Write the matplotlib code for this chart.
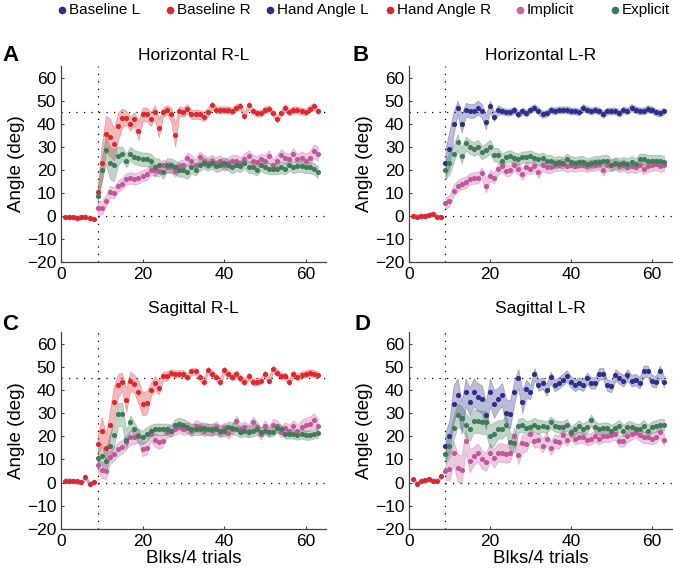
import numpy as np
import matplotlib
matplotlib.use("Agg")
import matplotlib.pyplot as plt
from matplotlib.lines import Line2D

plt.rcParams["font.family"] = ["Liberation Sans", "DejaVu Sans"]

# ---- data ----
base_x = list(range(1, 9))
x = list(range(9, 64))

# Panel A: Horizontal R-L
a_base = [-0.5, -0.5, -0.5, -0.8, -0.5, -0.3, -1.0, -1.2]
a_hand = [10.5, 23, 35.5, 34, 31, 39, 42.5, 42.5, 40, 42, 37, 44, 44, 42, 45, 38, 45, 46, 44, 35,
          45.5, 45, 46.5, 44, 44, 44, 43, 45, 48, 46, 46, 46, 46, 45.5, 47, 47.5, 43.5, 48, 45.5, 44.5,
          44.5, 46, 46.5, 44.5, 42, 44.5, 47, 45, 46, 46, 45.5, 45, 46.5, 47.5, 45.5]
a_hand_sem = [2, 8, 8, 8, 7, 6, 4, 3, 3, 3, 4, 3, 3, 3, 3, 4, 2, 2, 3, 5,
              2, 2, 2, 2, 2, 2, 2, 2, 1.5, 1.5, 1.5, 1.5, 1.5, 1.5, 1.5, 1.5, 1.5, 1.5, 1.5, 1.5,
              1.5, 1.5, 1.5, 1.5, 1.5, 1.5, 1.5, 1.5, 1.5, 1.5, 1.5, 1.5, 1.5, 1.5, 1.5]
a_expl = [8.5, 20, 28.5, 23, 22, 26, 27, 24, 27, 25.5, 25, 24.5, 24.5, 24, 21, 22, 19, 22, 22, 21,
          20, 20, 19, 21, 20, 22, 23, 22, 23, 21.5, 22, 23, 22, 21, 22, 21.5, 23, 21, 21, 20,
          22, 21, 20.5, 20.5, 20.5, 21, 20.5, 22, 21, 21.5, 21.5, 21, 21, 20.5, 19]
a_expl_sem = [3, 5, 6, 7, 7, 4, 3, 3, 3, 3, 3, 3, 3, 3, 4, 3, 3, 3, 3, 3,
              3, 3, 3, 2.5, 2.5, 2.5, 2.5, 2.5, 2.5, 2.5, 2.5, 2.5, 2.5, 2.5, 2.5, 2.5, 2.5, 2.5, 2.5, 2.5,
              2.5, 2.5, 2.5, 2.5, 2.5, 2.5, 2.5, 2.5, 2.5, 2.5, 2.5, 2.5, 2.5, 2.5, 2.5]
a_impl = [3.5, 3.5, 6.5, 10.5, 10, 13, 14, 16, 16.5, 16, 16.5, 17.5, 18, 20, 20, 19.5, 22, 21, 21, 19.5,
          21.5, 22, 25, 24, 22, 25.5, 24, 23, 24, 23, 24, 22, 23, 24, 24, 23, 24.5, 26, 24, 23.5,
          24.5, 24, 26, 22, 24, 26.5, 25, 24.5, 27, 24.5, 25, 24, 25, 28, 27]
a_impl_sem = [3, 3, 2.5, 2.5, 2.5, 2.5, 2.5, 2.5, 2.5, 2.5, 2.5, 2.5, 2.5, 2.5, 2.5, 2.5, 2.5, 2.5, 2.5, 2.5,
              2.5, 2.5, 2.5, 2.5, 2.5, 2.5, 2.5, 2.5, 2.5, 2.5, 2.5, 2.5, 2.5, 2.5, 2.5, 2.5, 2.5, 2.5, 2.5, 2.5,
              2.5, 2.5, 2.5, 2.5, 2.5, 2.5, 2.5, 2.5, 2.5, 2.5, 3, 3, 3, 3, 3]

# Panel B: Horizontal L-R
b_base = [0, -0.3, 0, 0, 0.5, 1, -0.5, -0.5]
b_hand = [23, 29, 40, 47, 40, 46, 45.5, 45.5, 47, 45.5, 40.5, 47.5, 43, 46, 45.5, 45, 45, 46, 44, 45.5,
          44.5, 46, 47, 45.5, 44, 44.5, 46, 45.5, 46, 46, 46, 45.5, 45.5, 45, 47, 46, 45.5, 46, 45.5, 44,
          45.5, 45.5, 45.5, 44.5, 46, 45.5, 47, 46, 45.5, 45.5, 46.5, 46, 45, 44.5, 45.5]
b_hand_sem = [6, 8, 5, 3, 4, 3, 3, 3, 3, 3, 3, 2.5, 2, 2, 1.5, 1.5, 1.5, 1.5, 1.5, 1.5,
              1.5, 1.5, 1.5, 1.5, 1.5, 1.5, 1.5, 1.5, 1.5, 1.5, 1.5, 1.5, 1.5, 1.5, 1.5, 1.5, 1.5, 1.5, 1.5, 1.5,
              1.5, 1.5, 1.5, 1.5, 1.5, 1.5, 1.5, 1.5, 1.5, 1.5, 1.5, 1.5, 1.5, 1.5, 1.5]
b_expl = [20, 23, 27, 32, 26, 31.5, 30, 29, 30, 27.5, 28.5, 30, 26.5, 26.5, 24, 25.5, 26, 25, 24.5, 25.5,
          25.5, 26, 25, 24.5, 25, 24, 24, 23, 23.5, 23, 24.5, 23.5, 23, 23.5, 23.5, 22.5, 23, 23.5, 23.5, 24,
          24, 22, 23, 22.5, 23, 22.5, 23.5, 22.5, 24.5, 24.5, 24, 24, 24, 24, 23.5]
b_expl_sem = [4, 5, 4, 3.5, 3.5, 3, 3, 3, 3, 3, 3, 3, 3, 3, 3, 2.5, 2.5, 2.5, 2.5, 2.5,
              2.5, 2.5, 2.5, 2.5, 2.5, 2.5, 2.5, 2.5, 2.5, 2.5, 2.5, 2.5, 2.5, 2.5, 2.5, 2.5, 2.5, 2.5, 2.5, 2.5,
              2.5, 2.5, 2.5, 2.5, 2.5, 2.5, 2.5, 2.5, 2.5, 2.5, 2.5, 2.5, 2.5, 2.5, 2.5]
b_impl = [5.5, 6.5, 11, 13, 14, 14.5, 16, 16.5, 16.5, 18.5, 13, 17.5, 16.5, 20.5, 21.5, 19.5, 20, 22, 20.5, 18,
          21, 20.5, 21.5, 19, 22, 21, 21, 22, 22, 22.5, 21.5, 22, 21.5, 22, 22, 21.5, 22, 22, 22.5, 20,
          22, 22, 22.5, 21.5, 22, 21, 21.5, 21, 22, 20.5, 21.5, 22, 22.5, 21.5, 22]
b_impl_sem = [2.5, 2.5, 2.5, 2.5, 2.5, 2.5, 2.5, 2.5, 2.5, 2.5, 3, 2.5, 2.5, 2.5, 2.5, 2.5, 2.5, 2.5, 2.5, 2.5,
              2.5, 2.5, 2.5, 2.5, 2.5, 2.5, 2.5, 2.5, 2.5, 2.5, 2.5, 2.5, 2.5, 2.5, 2.5, 2.5, 2.5, 2.5, 2.5, 2.5,
              2.5, 2.5, 2.5, 2.5, 2.5, 2.5, 2.5, 2.5, 2.5, 2.5, 2.5, 2.5, 2.5, 2.5, 2.5]

# Panel C: Sagittal R-L
c_base = [0.9, 0.9, 0.7, 0.5, 0.1, 2.3, -0.7, 0.3]
c_hand = [16.5, 22.5, 15, 25, 35, 42, 43.5, 35.5, 44, 42.5, 39, 34, 34.5, 40, 43, 41, 46, 46, 47.5, 47,
          47, 47, 45.5, 48, 48, 45.5, 43.5, 48.5, 47, 45.5, 43.5, 48.5, 47, 45.5, 47, 45, 43.5, 46, 43.5, 43.5,
          44, 47, 44, 49, 47.5, 46, 46, 43.5, 47, 45.5, 46.5, 47, 47.5, 47, 46.5]
c_hand_sem = [4, 6, 6, 6, 7, 5, 4, 5, 4, 4, 5, 5, 5, 3, 3, 3, 2, 2, 1.5, 1.5,
              1.5, 1.5, 1.5, 1.5, 1.5, 1.5, 1.5, 1.5, 1.5, 1.5, 1.5, 1.5, 1.5, 1.5, 1.5, 1.5, 1.5, 1.5, 1.5, 1.5,
              1.5, 1.5, 1.5, 1.5, 1.5, 1.5, 1.5, 1.5, 1.5, 1.5, 1.5, 1.5, 1.5, 1.5, 1.5]
c_expl = [10.5, 11.5, 9.5, 16, 20.5, 29.5, 29.5, 18.5, 26, 23, 20, 19.5, 21, 22.5, 23, 23, 23, 23, 22.5, 25,
          25.5, 25, 24, 23, 23, 23, 23.5, 23, 23, 23, 22.5, 22.5, 24, 23.5, 23, 22, 22.5, 22, 22.5, 23,
          22, 22.5, 22, 22, 23.5, 23, 21, 21, 21, 20.5, 21, 20.5, 20.5, 21, 21.5]
c_expl_sem = [3, 4, 5, 5, 5, 5, 5, 4, 3, 3, 3, 3, 3, 2.5, 2.5, 2.5, 2.5, 2.5, 2.5, 2.5,
              2.5, 2.5, 2.5, 2.5, 2.5, 2.5, 2.5, 2.5, 2.5, 2.5, 2.5, 2.5, 2.5, 2.5, 2.5, 2.5, 2.5, 2.5, 2.5, 2.5,
              2, 2, 2, 2, 2, 2, 2, 2, 2, 2, 2, 2, 2, 2, 2]
c_impl = [7.5, 5.5, 5, 11, 12.5, 14.5, 15.5, 17.5, 19.5, 19.5, 20.5, 14.5, 15, 21, 18.5, 17.5, 18, 22, 22.5, 23,
          24, 23, 23.5, 22.5, 24.5, 24, 22.5, 23, 22.5, 24, 22, 23.5, 21.5, 23, 26.5, 23, 24, 22.5, 26, 24,
          21, 24.5, 22, 25, 24.5, 22, 23.5, 22.5, 24.5, 22.5, 24, 25, 25.5, 27, 24.5]
c_impl_sem = [3, 3.5, 3.5, 3, 3, 3, 3, 3, 3, 3, 3, 3, 3, 3, 3, 3, 2.5, 2.5, 2.5, 2.5,
              2.5, 2.5, 2.5, 2.5, 2.5, 2.5, 2.5, 2.5, 2.5, 2.5, 2.5, 2.5, 2.5, 2.5, 2.5, 2.5, 2.5, 2.5, 2.5, 2.5,
              2.5, 2.5, 2.5, 2.5, 2.5, 2.5, 2.5, 2.5, 2.5, 2.5, 3, 3, 3, 3, 3]

# Panel D: Sagittal L-R
d_base = [1.5, -0.5, 0.8, 1, 1.5, 0.8, 0.8, 3]
d_hand = [15.7, 20, 34, 38, 28, 39, 35, 39, 37, 36, 29, 39, 34, 36, 38, 30, 29.5, 39, 45, 35,
          40.5, 39, 47, 42, 43, 40, 45.5, 42, 43, 44.5, 46, 43.5, 42, 43, 42, 45, 43, 43, 47, 47,
          42, 41.5, 46.5, 45, 44, 46.5, 44, 44.5, 43, 48, 48, 44, 43.5, 48, 43.5]
d_hand_sem = [6, 7, 8, 7, 7, 6, 6, 6, 6, 6, 6, 6, 6, 5, 5, 6, 6, 5, 4, 5,
              4, 3, 2.5, 2.5, 2.5, 2.5, 2.5, 2.5, 2.5, 2.5, 2.5, 2.5, 2.5, 2.5, 2.5, 2.5, 2.5, 2.5, 2.5, 2.5,
              2.5, 2.5, 2.5, 2.5, 2.5, 2.5, 2.5, 2.5, 2.5, 2.5, 2.5, 2.5, 2.5, 2.5, 2.5]
d_expl = [12.5, 16, 23.5, 29, 28, 25, 23, 26.5, 26.5, 26, 26, 20, 21, 23, 23, 25, 17.5, 17, 24.5, 25,
          23.5, 24, 25, 24, 24.5, 24, 26, 24.5, 24, 24, 25, 22, 23, 24.5, 23, 24, 27, 24, 23, 23.5,
          23.5, 22.5, 23.5, 24.5, 22.5, 24, 24, 23, 23, 24.5, 22.5, 24, 24.5, 25, 25]
d_expl_sem = [4, 5, 5, 5, 5, 5, 5, 5, 5, 5, 5, 5, 5, 4, 4, 4, 4, 4, 3, 3,
              3, 3, 3, 3, 2.5, 2.5, 2.5, 2.5, 2.5, 2.5, 2.5, 2.5, 2.5, 2.5, 2.5, 2.5, 2.5, 2.5, 2.5, 2.5,
              2.5, 2.5, 2.5, 2.5, 2.5, 2.5, 2.5, 2.5, 2.5, 2.5, 2.5, 2.5, 2.5, 2.5, 2.5]
d_impl = [5, 6, 13, 6.5, 5.5, 18, 9.5, 11.5, 13, 10, 9, 13, 10.5, 13, 13, 12.5, 13, 20, 12, 17,
          16.5, 21, 18, 18.5, 16, 19, 15, 18, 17.5, 20.5, 18.5, 21, 19, 19.5, 19.5, 18.5, 19, 20, 19, 20,
          20, 20.5, 21, 18, 18, 20, 21, 22, 20.5, 19.5, 19.5, 19, 19.5, 22, 18.5]
d_impl_sem = [4, 5, 5, 6, 6, 5, 5, 4, 4, 4, 4, 4, 4, 4, 4, 4, 4, 4, 4, 4,
              3, 3, 3, 3, 3, 3, 3, 3, 3, 3, 2.5, 2.5, 2.5, 2.5, 2.5, 2.5, 2.5, 2.5, 2.5, 2.5,
              2.5, 2.5, 2.5, 2.5, 2.5, 2.5, 2.5, 2.5, 2.5, 2.5, 2.5, 2.5, 2.5, 2.5, 2.5]
base_sem = [1, 1, 1, 1, 1, 1, 1, 1]

panel_letters = ["A", "B", "C", "D"]
panel_titles = ["Horizontal R-L", "Horizontal L-R", "Sagittal R-L", "Sagittal L-R"]
legend_labels = ["Baseline L", "Baseline R", "Hand Angle L", "Hand Angle R", "Implicit", "Explicit"]

RED = "#e0262c"
BLUE = "#2b2f8c"
PINK = "#c1579b"
GREEN = "#3e7c56"

panels = [
    (a_base, RED, a_hand, a_hand_sem, RED, a_expl, a_expl_sem, a_impl, a_impl_sem),
    (b_base, RED, b_hand, b_hand_sem, BLUE, b_expl, b_expl_sem, b_impl, b_impl_sem),
    (c_base, BLUE, c_hand, c_hand_sem, RED, c_expl, c_expl_sem, c_impl, c_impl_sem),
    (d_base, BLUE, d_hand, d_hand_sem, BLUE, d_expl, d_expl_sem, d_impl, d_impl_sem),
]

W, H = 673, 584
fig = plt.figure(figsize=(W / 100, H / 100), dpi=100)
boxes = [
    [61 / W, (H - 262) / H, 265 / W, 196 / H],
    [409 / W, (H - 262) / H, 263 / W, 196 / H],
    [61 / W, (H - 529) / H, 265 / W, 197 / H],
    [409 / W, (H - 529) / H, 263 / W, 197 / H],
]
letter_pos = [(2, 45), (352, 45), (2, 314), (354, 314)]
title_pad = [4, 4, 14, 14]
DOTS = (0, (1, 5))


def band(ax, xs, ys, sem, color, z):
    ys = np.array(ys, dtype=float)
    sem = np.array(sem, dtype=float)
    ax.fill_between(xs, ys - sem, ys + sem, facecolor=color, alpha=0.32,
                    edgecolor=color, linewidth=0.6, zorder=z)
    ax.plot(xs, ys, "o", color=color, markersize=3.7, markeredgewidth=0, zorder=z + 5)


for i, (base, bfill, hand, hsem, hcol, expl, esem, impl, isem) in enumerate(panels):
    ax = fig.add_axes(boxes[i])
    ax.axvline(9, color="k", linestyle=DOTS, linewidth=0.9, zorder=1)
    ax.plot([0, 65], [45, 45], color="k", linestyle=DOTS, linewidth=0.9, zorder=1)
    ax.plot([9, 65], [0, 0], color="k", linestyle=DOTS, linewidth=0.9, zorder=1)

    ys = np.array(base)
    ax.fill_between(base_x, ys - np.array(base_sem), ys + np.array(base_sem),
                    facecolor=bfill, alpha=0.3, edgecolor=bfill, linewidth=0.6, zorder=2)
    ax.plot(base_x, base, "o", color=RED, markersize=3.7, markeredgewidth=0, zorder=8)

    band(ax, x, hand, hsem, hcol, 2)
    band(ax, x, impl, isem, PINK, 3)
    band(ax, x, expl, esem, GREEN, 4)

    ax.set_xlim(0, 65)
    ax.set_ylim(-20, 65)
    ax.set_xticks([0, 20, 40, 60])
    ax.set_yticks(range(-20, 61, 10))
    ax.tick_params(direction="in", length=2, labelsize=12.5, color="#444444")
    for s in ["top", "right"]:
        ax.spines[s].set_visible(False)
    for s in ["left", "bottom"]:
        ax.spines[s].set_color("#444444")
        ax.spines[s].set_linewidth(0.9)
    ax.set_ylabel("Angle (deg)", fontsize=13.5, labelpad=1)
    if i >= 2:
        ax.set_xlabel("Blks/4 trials", fontsize=13.5, labelpad=1)
    ax.set_title(panel_titles[i], fontsize=12.5, pad=title_pad[i])
    lx, ly = letter_pos[i]
    fig.text(lx / W, 1 - ly / H, panel_letters[i], fontsize=16, fontweight="bold", va="top")

# legend row at the top
legend_colors = [BLUE, RED, BLUE, RED, "#c7679f", GREEN]
legend_x = [62, 170, 270, 390, 520, 615]
for lab, col, px in zip(legend_labels, legend_colors, legend_x):
    fig.add_artist(Line2D([px / W], [1 - 10 / H], marker="o", color=col, markersize=5.5,
                          markeredgewidth=0, transform=fig.transFigure))
    fig.text((px + 7) / W, 1 - 10 / H, lab, fontsize=11, va="center")

fig.savefig("out.png", dpi=100)
